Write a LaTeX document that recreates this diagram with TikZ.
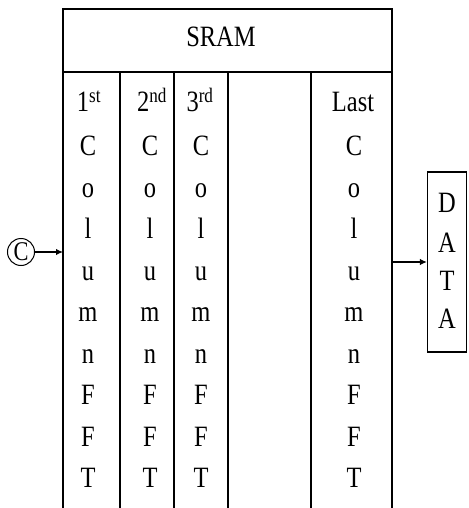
\documentclass[tikz,border=0pt]{standalone}
\usepackage{fontspec}
\setmainfont{Liberation Serif}
\usetikzlibrary{arrows.meta}
% narrow, tall serif lettering
\newcommand{\tallset}[1]{\scalebox{0.83}[1]{#1}}

\begin{document}
\begin{tikzpicture}[x=1pt,y=-1pt,
  frame/.style={line width=1.4pt, line cap=rect},
  letter/.style={inner sep=0pt, anchor=base, font=\fontsize{29.5}{31}\selectfont},
  conn/.style={line width=1.4pt, -{Latex[length=7pt,width=6.5pt]}},
]
\useasboundingbox (0,0) rectangle (468,508);

% outer frame of the memory block (open at the bottom)
\draw[frame] (63,508) -- (63,9) -- (392,9) -- (392,508);
\draw[frame] (63,72) -- (392,72);
% column separators
\foreach \x in {120,174,228,311}
  \draw[frame, line width=1.2pt] (\x,72) -- (\x,508);

% title
\node[letter] (sram) at (221,47) {\tallset{SRAM}};

% column headings
\node[letter] (h1) at (89,112)  {\tallset{1\textsuperscript{st}}};
\node[letter] (h2) at (152,112) {\tallset{2\textsuperscript{nd}}};
\node[letter] (h3) at (200,112) {\tallset{3\textsuperscript{rd}}};
\node[letter] (h5) at (353,112) {\tallset{Last}};

% vertical "ColumnFFT" in each used column
\foreach \col/\cx in {1/88,2/150,3/201,5/354}{
  \foreach \ch [count=\i from 0] in {C,o,l,u,m,n,F,F,T}{
    \node[letter] (c\col-\i) at (\cx,155.5+41.5*\i) {\tallset{\ch}};
  }
}

% clock input
\node[circle, draw, line width=1pt, minimum size=27pt, inner sep=0pt,
      font=\fontsize{27}{28}\selectfont] (clk) at (21,252) {\tallset{C}};
\coordinate (inL) at (63,252);
\draw[conn] (clk) -- (inL);

% data output box
\node[draw, line width=1.1pt, minimum width=39pt, minimum height=180pt,
      inner sep=0pt] (data) at (447,262) {};
\foreach \ch/\by [count=\i] in {D/212,A/252,T/290,A/328}
  \node[letter] (d\i) at (data.center |- 0,\by) {\tallset{\ch}};
\coordinate (outR) at (392,262);
\draw[conn] (outR) -- (data.west);
\end{tikzpicture}
\end{document}
